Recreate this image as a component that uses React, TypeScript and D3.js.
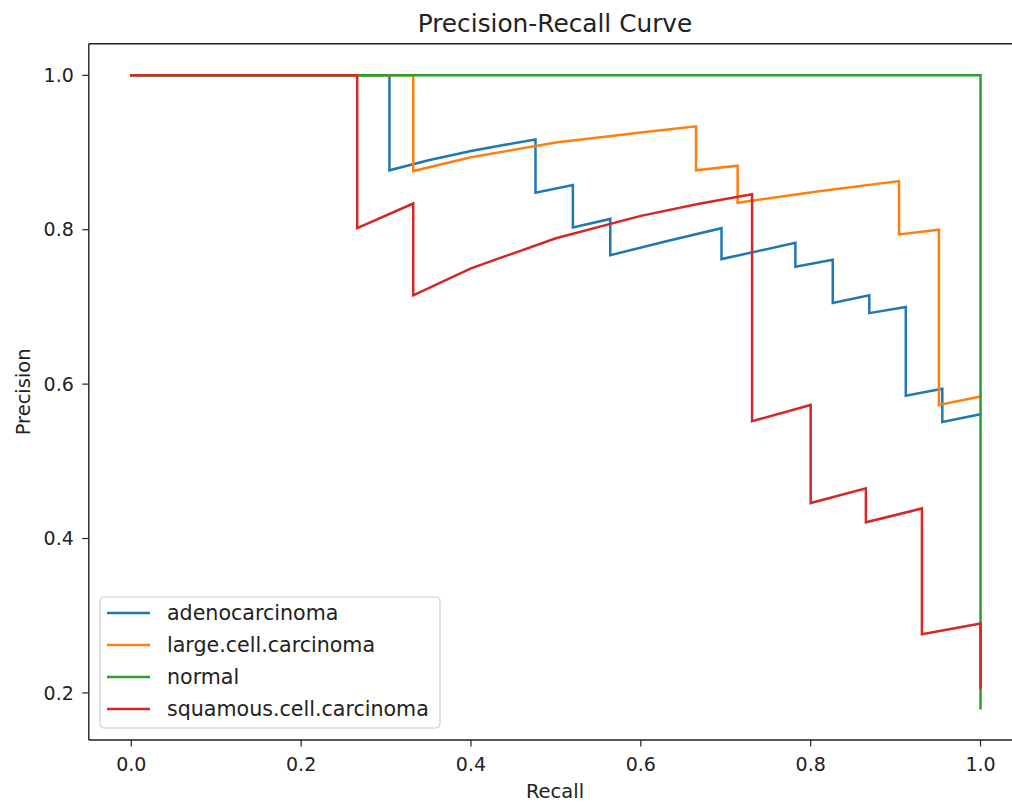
import React from "react";
import * as d3 from "d3";

const seriesNames = ["adenocarcinoma", "large.cell.carcinoma", "normal", "squamous.cell.carcinoma"];
const seriesColors = ["#1f77b4", "#ff7f0e", "#2ca02c", "#d62728"];

const adenoRecall = [0, 0.304, 0.304, 0.35, 0.4, 0.44, 0.476, 0.476, 0.52, 0.52, 0.564, 0.564, 0.63, 0.695, 0.695, 0.782, 0.782, 0.826, 0.826, 0.869, 0.869, 0.912, 0.912, 0.955, 0.955, 1.0];
const adenoPrecision = [1, 1, 0.877, 0.89, 0.902, 0.91, 0.917, 0.848, 0.858, 0.803, 0.814, 0.767, 0.785, 0.802, 0.762, 0.783, 0.752, 0.761, 0.705, 0.715, 0.692, 0.7, 0.585, 0.594, 0.551, 0.561];

const largeRecall = [0, 0.332, 0.332, 0.4, 0.5, 0.6, 0.665, 0.665, 0.714, 0.714, 0.81, 0.904, 0.904, 0.951, 0.951, 1.0];
const largePrecision = [1, 1, 0.876, 0.894, 0.913, 0.926, 0.934, 0.877, 0.883, 0.835, 0.85, 0.863, 0.794, 0.8, 0.573, 0.584];

const normalRecall = [0, 1.0, 1.0];
const normalPrecision = [1, 1, 0.18];

const squamRecall = [0, 0.266, 0.266, 0.332, 0.332, 0.4, 0.5, 0.6, 0.67, 0.731, 0.731, 0.8, 0.8, 0.865, 0.865, 0.931, 0.931, 1.0, 1.0];
const squamPrecision = [1, 1, 0.802, 0.834, 0.715, 0.75, 0.789, 0.818, 0.834, 0.846, 0.552, 0.573, 0.446, 0.465, 0.421, 0.439, 0.276, 0.29, 0.207];

const xTicks = [0, 0.2, 0.4, 0.6, 0.8, 1.0];
const yTicks = [0.2, 0.4, 0.6, 0.8, 1.0];

const seriesRecall = [adenoRecall, largeRecall, normalRecall, squamRecall];
const seriesPrecision = [adenoPrecision, largePrecision, normalPrecision, squamPrecision];

const W = 1012;
const H = 803;
const L = 88.8;
const R = 1023;
const T = 43.7;
const B = 740;
const FONT = "DejaVu Sans, sans-serif";

export default function App() {
  const x = d3.scaleLinear().domain([-0.05, 1.05]).range([L, R]);
  const y = d3.scaleLinear().domain([0.139, 1.041]).range([B, T]);
  const line = d3
    .line<[number, number]>()
    .x((d) => x(d[0]))
    .y((d) => y(d[1]));

  const legendX = 100;
  const legendY = 597;
  const legendW = 340;
  const legendH = 131;
  const rowY = [613, 645, 677, 709];

  return (
    <svg
      width={W}
      height={H}
      style={{ position: "absolute", left: 0, top: 0, background: "#fff" }}
      fontFamily={FONT}
    >
      <rect x={0} y={0} width={W} height={H} fill="#fff" />
      <defs>
        <clipPath id="plotclip">
          <rect x={L} y={T} width={R - L} height={B - T} />
        </clipPath>
      </defs>
      <g clipPath="url(#plotclip)">
        {seriesNames.map((name, i) => {
          const pts: [number, number][] = seriesRecall[i].map((r, j) => [r, seriesPrecision[i][j]]);
          return (
            <path
              key={name}
              d={line(pts) || ""}
              fill="none"
              stroke={seriesColors[i]}
              strokeWidth={2.5}
              strokeLinejoin="miter"
              strokeLinecap="square"
            />
          );
        })}
      </g>
      {/* spines */}
      <line x1={L} x2={L} y1={T} y2={B} stroke="#222" strokeWidth={1.4} />
      <line x1={L} x2={R} y1={B} y2={B} stroke="#222" strokeWidth={1.4} />
      <line x1={L} x2={R} y1={T} y2={T} stroke="#222" strokeWidth={1.4} />
      <line x1={R} x2={R} y1={T} y2={B} stroke="#222" strokeWidth={1.4} />
      {/* x ticks */}
      {xTicks.map((t) => (
        <g key={"x" + t}>
          <line x1={x(t)} x2={x(t)} y1={B} y2={B + 6.5} stroke="#222" strokeWidth={1.2} />
          <text x={x(t)} y={B + 31} textAnchor="middle" fontSize={19} fill="#222">
            {t.toFixed(1)}
          </text>
        </g>
      ))}
      {/* y ticks */}
      {yTicks.map((t) => (
        <g key={"y" + t}>
          <line x1={L} x2={L - 6.5} y1={y(t)} y2={y(t)} stroke="#222" strokeWidth={1.2} />
          <text x={L - 15} y={y(t)} dy="0.35em" textAnchor="end" fontSize={19} fill="#222">
            {t.toFixed(1)}
          </text>
        </g>
      ))}
      <text x={555} y={798} textAnchor="middle" fontSize={19.5} fill="#222">
        Recall
      </text>
      <text
        transform={`translate(30, ${(T + B) / 2}) rotate(-90)`}
        textAnchor="middle"
        fontSize={19.5}
        fill="#222"
      >
        Precision
      </text>
      <text x={555} y={32} textAnchor="middle" fontSize={24.8} fill="#222">
        Precision-Recall Curve
      </text>
      {/* legend */}
      <rect
        x={legendX}
        y={legendY}
        width={legendW}
        height={legendH}
        rx={4}
        fill="#fff"
        fillOpacity={0.8}
        stroke="#ccc"
        strokeWidth={1.2}
      />
      {seriesNames.map((name, i) => (
        <g key={"lg" + name}>
          <line x1={107} x2={150} y1={rowY[i]} y2={rowY[i]} stroke={seriesColors[i]} strokeWidth={2.5} />
          <text x={167} y={rowY[i]} dy="0.35em" fontSize={20.6} fill="#222">
            {name}
          </text>
        </g>
      ))}
    </svg>
  );
}
